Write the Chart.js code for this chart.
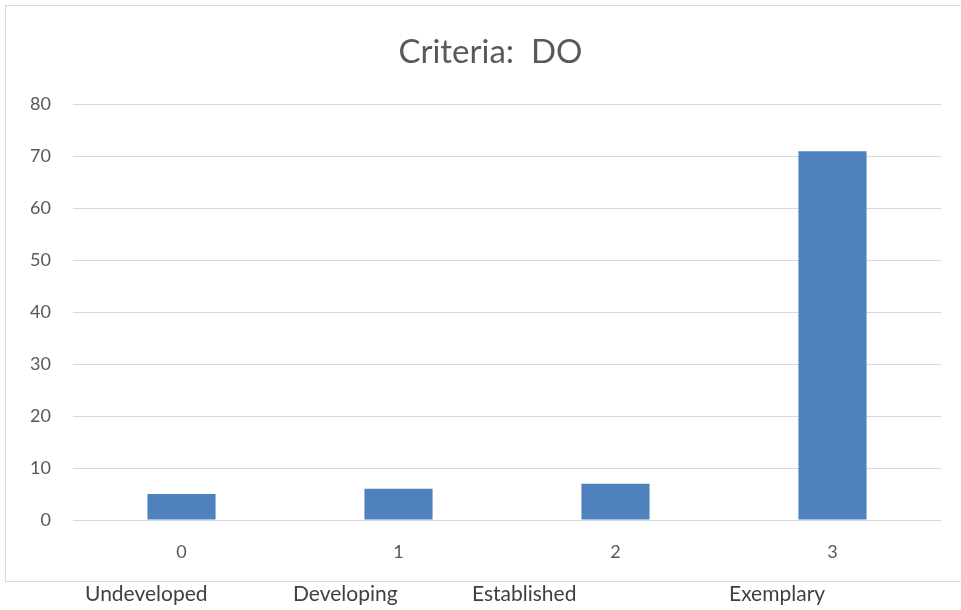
<!DOCTYPE html>
<html>
<head>
<meta charset="utf-8">
<script src="https://cdn.jsdelivr.net/npm/chart.js@4/dist/chart.umd.min.js"></script>
<style>
  body { margin: 0; background: #fff; width: 961px; height: 610px; overflow: hidden; position: relative; font-family: Lato, "Open Sans", sans-serif; }
  #box { position: absolute; left: 5px; top: 5px; width: 960px; height: 575px; border: 1px solid #d9d9d9; }
  #box canvas { display: block; }
  .lvl { position: absolute; top: 580px; font-size: 21px; color: #404040; white-space: nowrap; }
</style>
</head>
<body>
<div id="box"><canvas id="c" width="960" height="575"></canvas></div>
<div id="levels"></div>
<script>
const categories = ['0', '1', '2', '3'];
const values = [5, 6, 7, 71];
const levelNames = ['Undeveloped', 'Developing', 'Established', 'Exemplary'];
const levelLeft = [85, 293, 472, 729];

const levels = document.getElementById('levels');
levelNames.forEach((name, i) => {
  const d = document.createElement('div');
  d.className = 'lvl';
  d.style.left = levelLeft[i] + 'px';
  d.textContent = name;
  levels.appendChild(d);
});

// title sits centred on the whole box, not on the padded area
const shiftTitle = {
  id: 'shiftTitle',
  afterLayout(chart) {
    const t = chart.titleBlock;
    if (t) { t.left += 17; t.right += 17; }
  }
};

const ctx = document.getElementById('c').getContext('2d');
new Chart(ctx, {
  type: 'bar',
  data: {
    labels: categories,
    datasets: [{
      label: 'DO',
      data: values,
      backgroundColor: '#4f81bd',
      barPercentage: 0.314,
      categoryPercentage: 1
    }]
  },
  options: {
    responsive: false,
    animation: false,
    layout: { padding: { left: 0, right: 25, top: 0, bottom: 0 } },
    plugins: {
      legend: { display: false },
      tooltip: { enabled: false },
      title: {
        display: true,
        text: 'Criteria:  DO',
        color: '#595959',
        font: { family: 'Lato', size: 33, weight: 'normal' },
        padding: { top: 27, bottom: 32 }
      }
    },
    scales: {
      x: {
        grid: { display: false, drawTicks: false },
        border: { display: false },
        ticks: { color: '#595959', font: { family: 'Lato', size: 18 }, padding: 21 },
        afterFit: s => { s.height = 61; }
      },
      y: {
        min: 0,
        max: 80,
        ticks: { stepSize: 10, color: '#595959', font: { family: 'Lato', size: 18 }, padding: 22 },
        grid: { color: '#d9d9d9', lineWidth: 1, drawTicks: false },
        border: { display: false },
        afterFit: s => { s.width = 67; }
      }
    }
  },
  plugins: [shiftTitle]
});
</script>
</body>
</html>
